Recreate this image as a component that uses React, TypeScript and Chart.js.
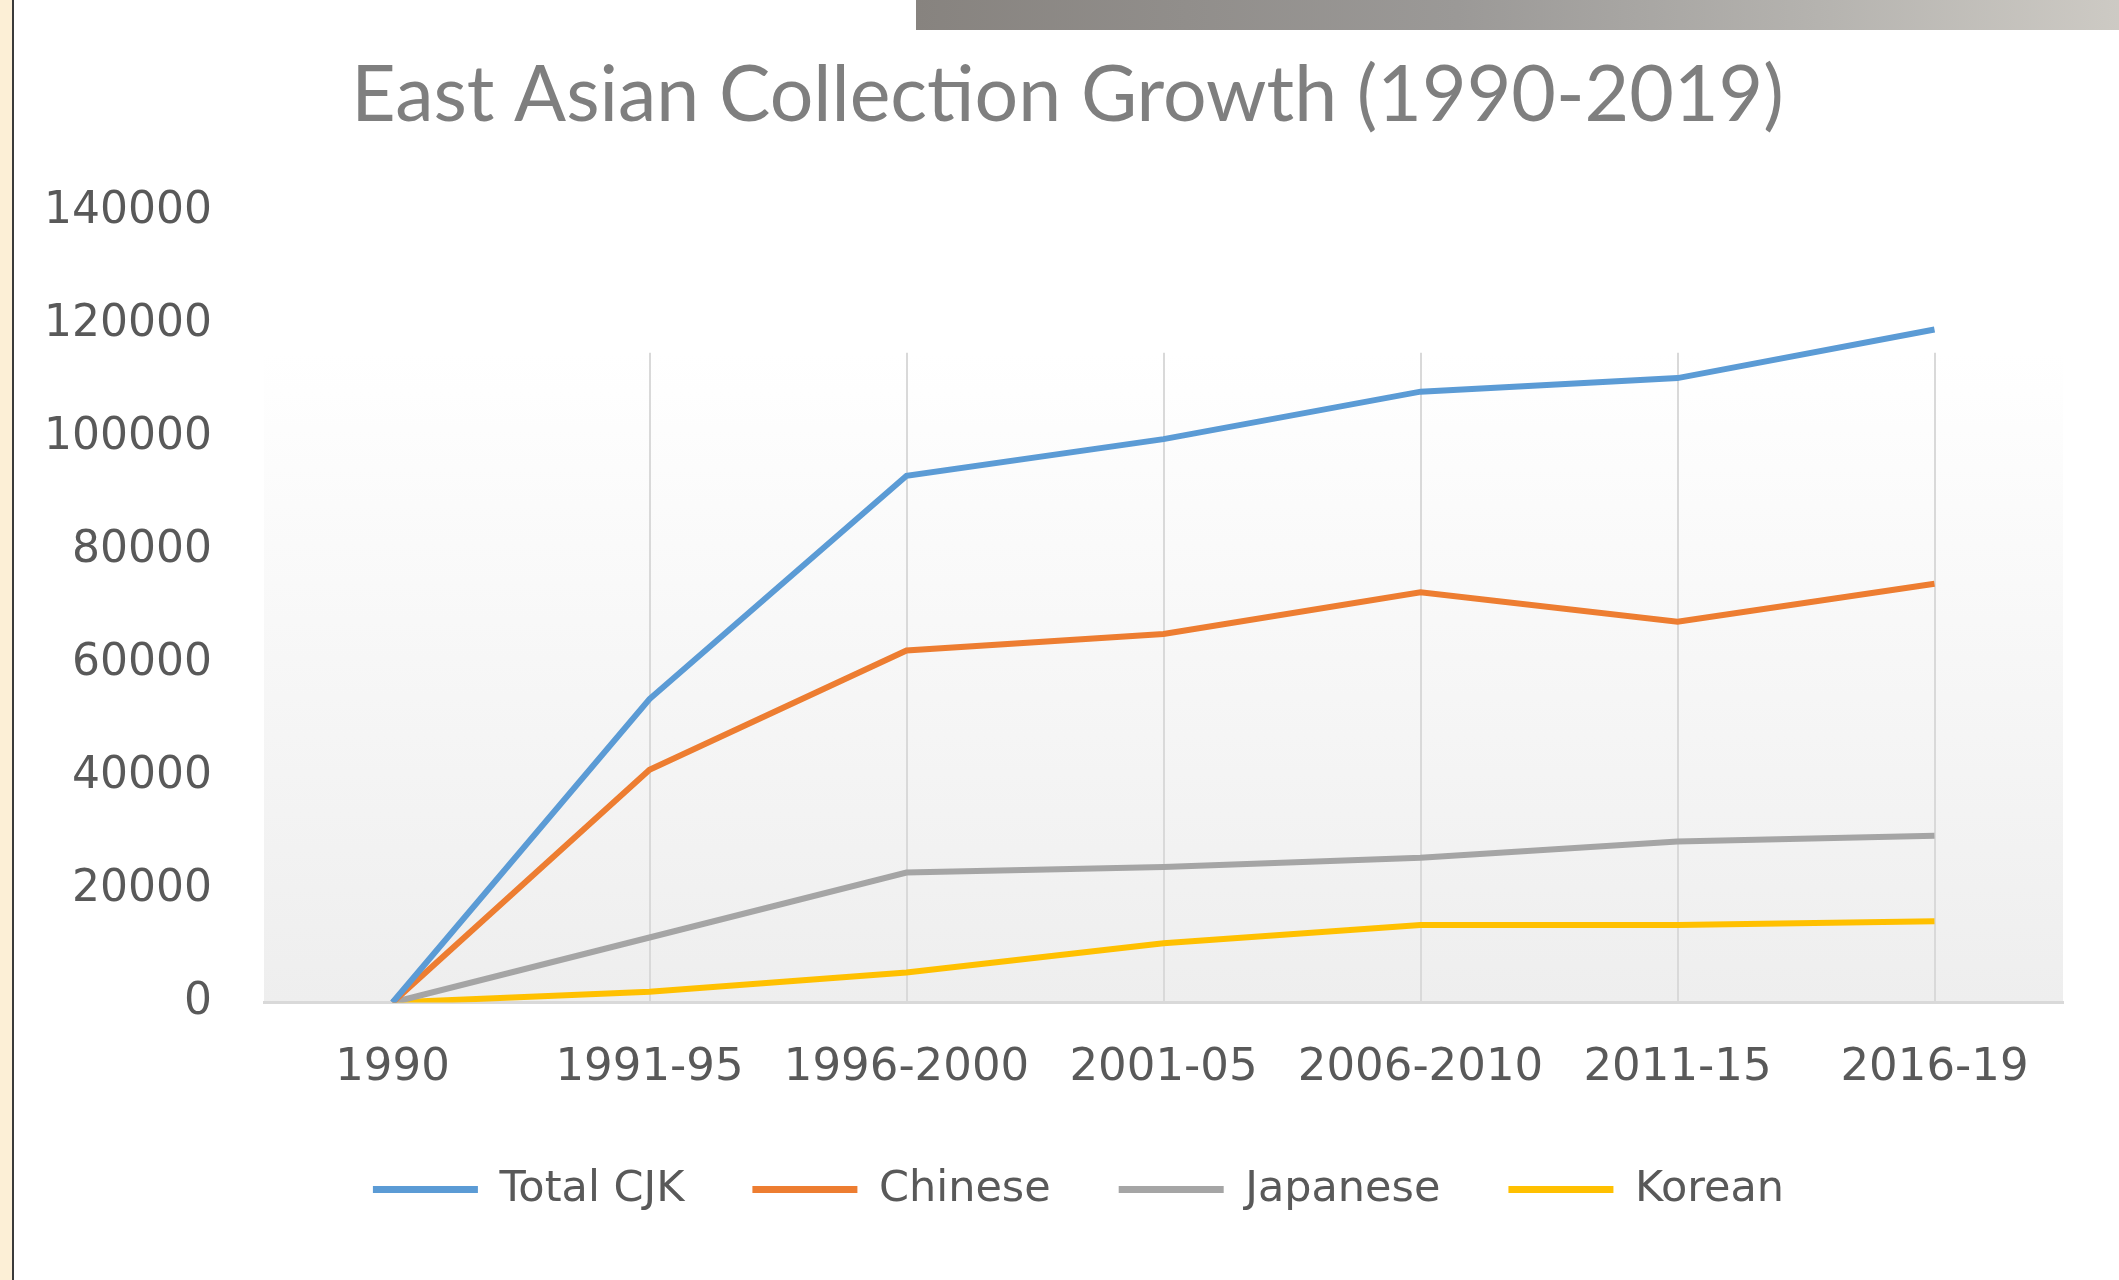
import React, { useEffect, useRef } from "react";
import { Chart, registerables } from "chart.js";

Chart.register(...registerables);

const categories = ["1990", "1991-95", "1996-2000", "2001-05", "2006-2010", "2011-15", "2016-19"];
const totalCJK = [0, 53700, 93200, 99700, 108100, 110500, 119100];
const chinese = [0, 41200, 62300, 65200, 72600, 67400, 74100];
const japanese = [0, 11500, 23000, 24000, 25600, 28500, 29500];
const korean = [0, 1900, 5300, 10500, 13700, 13700, 14400];
const seriesNames = ["Total CJK", "Chinese", "Japanese", "Korean"];
const seriesColors = ["#5B9BD5", "#ED7D31", "#A5A5A5", "#FFC000"];
const yTicks = [0, 20000, 40000, 60000, 80000, 100000, 120000, 140000];
const plotFadeTop = 115000;

const plotBackground = {
  id: "plotBackground",
  afterLayout(chart: any) {
    if (chart.titleBlock) {
      chart.titleBlock.left += 14;
      chart.titleBlock.right += 14;
    }
    if (chart.legend) {
      chart.legend.left += 25;
      chart.legend.right += 25;
    }
  },
  beforeDraw(chart: any) {
    const { ctx, chartArea, scales } = chart;
    const x = scales.x;
    const y = scales.y;
    const top = y.getPixelForValue(plotFadeTop);
    const bottom = chartArea.bottom;
    ctx.save();
    const g = ctx.createLinearGradient(0, top, 0, bottom);
    g.addColorStop(0, "#ffffff");
    g.addColorStop(1, "#eeeeee");
    ctx.fillStyle = g;
    ctx.fillRect(chartArea.left, top, chartArea.right - chartArea.left, bottom - top);
    ctx.strokeStyle = "#d9d9d9";
    ctx.lineWidth = 2;
    categories.forEach((_, i) => {
      if (i === 0) return;
      const px = Math.round(x.getPixelForValue(i));
      ctx.beginPath();
      ctx.moveTo(px, top);
      ctx.lineTo(px, bottom);
      ctx.stroke();
    });
    ctx.restore();
  },
};

export default function App() {
  const canvasRef = useRef<HTMLCanvasElement | null>(null);

  useEffect(() => {
    document.body.style.margin = "0";
    const canvas = canvasRef.current;
    if (!canvas) return;
    const data = [totalCJK, chinese, japanese, korean];
    const chart = new Chart(canvas, {
      type: "line",
      data: {
        labels: categories,
        datasets: seriesNames.map((name, i) => ({
          label: name,
          data: data[i],
          borderColor: seriesColors[i],
          backgroundColor: seriesColors[i],
          borderWidth: 6,
          pointRadius: 0,
          tension: 0,
          fill: false,
        })),
      },
      options: {
        animation: false,
        responsive: false,
        maintainAspectRatio: false,
        layout: { padding: { left: 44, right: 56, top: 50, bottom: 0 } },
        plugins: {
          title: {
            display: true,
            text: "East Asian Collection Growth (1990-2019)",
            color: "#7f7f7f",
            font: { family: "Lato", size: 77, weight: "normal" },
            padding: { top: 0, bottom: 69 },
          },
          legend: {
            display: true,
            position: "bottom",
            labels: {
              color: "#595959",
              font: { family: "DejaVu Sans", size: 43 },
              boxWidth: 105,
              boxHeight: 7,
              padding: 68,
              generateLabels(chart: any) {
                const items = Chart.defaults.plugins.legend.labels.generateLabels(chart);
                return items.map((it: any) => ({ ...it, lineWidth: 0, fillStyle: it.strokeStyle }));
              },
            },
          },
          tooltip: { enabled: false },
        },
        scales: {
          x: {
            type: "category",
            offset: true,
            grid: { display: false, drawTicks: false },
            border: { display: true, color: "#d9d9d9", width: 3 },
            ticks: {
              color: "#595959",
              font: { family: "DejaVu Sans", size: 45 },
              padding: 39,
              maxRotation: 0,
              autoSkip: false,
            },
            afterFit(scale: any) {
              scale.height = 97.5;
            },
          },
          y: {
            min: 0,
            max: 140000,
            afterBuildTicks(scale: any) {
              scale.ticks = yTicks.map((v) => ({ value: v }));
            },
            afterFit(scale: any) {
              scale.width = 220;
            },
            grid: { display: false, drawTicks: false },
            border: { display: false },
            ticks: {
              color: "#595959",
              font: { family: "DejaVu Sans", size: 44 },
              padding: 52,
              callback: (v: any) => String(v),
            },
          },
        },
      },
      plugins: [plotBackground],
    });
    return () => chart.destroy();
  }, []);

  return (
    <div style={{ position: "relative", width: 2119, height: 1280, overflow: "hidden", background: "#ffffff" }}>
      <div style={{ position: "absolute", left: 0, top: 0, width: 12, height: 1280, background: "#fcefd6" }} />
      <div style={{ position: "absolute", left: 12, top: 0, width: 2, height: 1280, background: "#3a3a3a" }} />
      <div
        style={{
          position: "absolute",
          left: 916,
          top: 0,
          width: 1203,
          height: 30,
          background: "linear-gradient(to right, #87837f 0%, #9b9997 45%, #b5b3af 75%, #cdcac4 100%)",
        }}
      />
      <canvas
        ref={canvasRef}
        width={2119}
        height={1221}
        style={{ position: "absolute", left: 0, top: 0, width: 2119, height: 1221 }}
      />
    </div>
  );
}
